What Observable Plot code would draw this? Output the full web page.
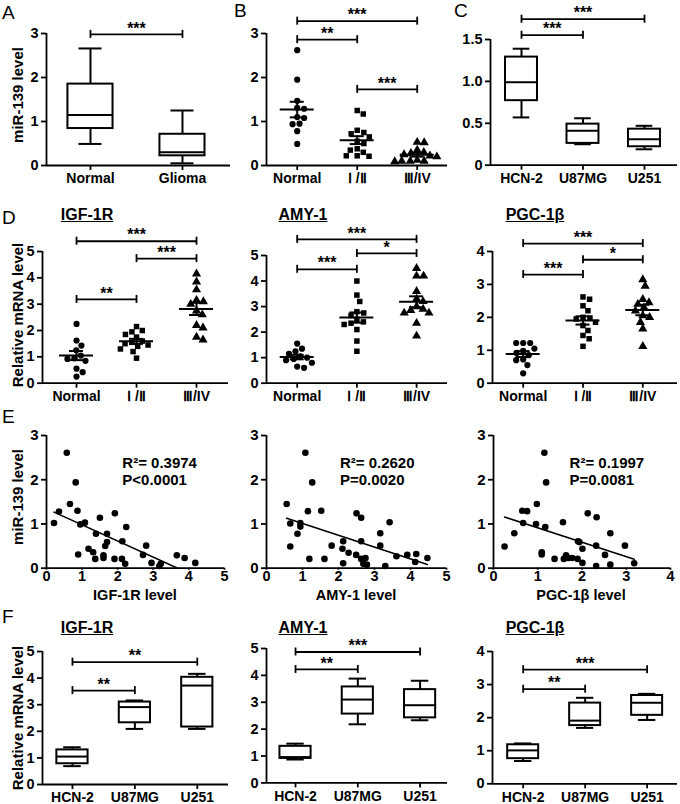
<!DOCTYPE html>
<html><head><meta charset="utf-8">
<script src="https://cdn.jsdelivr.net/npm/d3@7"></script>
<script src="https://cdn.jsdelivr.net/npm/@observablehq/plot@0.6"></script>
<style>
body{margin:0;background:#fff;}
#fig{position:relative;width:680px;height:804px;overflow:hidden;font-family:"Liberation Sans",Arial,Helvetica,sans-serif;color:#000;background:#fff;}
.lab{position:absolute;white-space:nowrap;line-height:1;}
</style></head><body><div id="fig"></div><script>
// ---------------- DATA ----------------
const catsA = ["Normal", "Glioma"];
const A_min = [0.49, 0.05], A_q1 = [0.84, 0.22], A_med = [1.15, 0.30], A_q3 = [1.85, 0.71], A_max = [2.66, 1.25];

const catsStage = ["Normal", "Ⅰ /Ⅱ", "Ⅲ/IV"];
const B_normal = [2.62, 1.95, 1.47, 1.31, 1.29, 1.10, 1.08, 0.95, 0.94, 0.78, 0.49];
const B_early = [1.25, 1.17, 0.80, 0.75, 0.72, 0.65, 0.55, 0.50, 0.38, 0.35, 0.30, 0.22, 0.22, 0.21];
const B_late = [0.53, 0.52, 0.35, 0.30, 0.28, 0.25, 0.22, 0.20, 0.12, 0.10, 0.10, 0.10, 0.09];

const catsCell = ["HCN-2", "U87MG", "U251"];
const C_min = [0.57, 0.25, 0.19], C_q1 = [0.77, 0.26, 0.22], C_med = [0.99, 0.41, 0.31], C_q3 = [1.29, 0.49, 0.43], C_max = [1.39, 0.56, 0.47];

const genes = ["IGF-1R", "AMY-1", "PGC-1β"];
const IGF_normal = [2.25, 1.62, 1.43, 1.25, 1.05, 0.95, 0.92, 0.85, 0.55, 0.42, 0.25];
const IGF_early = [2.15, 2.00, 1.95, 1.85, 1.75, 1.60, 1.55, 1.50, 1.45, 1.40, 1.30, 1.20, 0.95];
const IGF_late = [4.15, 3.85, 3.55, 3.15, 3.10, 3.00, 2.75, 2.60, 2.20, 2.10, 1.75, 1.65];
const AMY_normal = [1.55, 1.35, 1.25, 1.15, 1.05, 1.00, 0.95, 0.90, 0.80, 0.65, 0.60];
const AMY_early = [4.00, 3.45, 3.20, 2.80, 2.75, 2.65, 2.50, 2.40, 2.35, 2.30, 2.10, 1.65, 1.25];
const AMY_late = [4.50, 4.20, 4.20, 3.60, 3.30, 3.20, 3.00, 2.90, 2.85, 2.75, 2.75, 2.35, 1.85];
const PGC_normal = [1.22, 1.22, 1.22, 1.05, 0.98, 0.92, 0.85, 0.72, 0.70, 0.55, 0.30];
const PGC_early = [2.62, 2.55, 2.35, 2.20, 2.00, 1.98, 1.95, 1.85, 1.75, 1.60, 1.45, 1.35, 1.12];
const PGC_late = [3.15, 2.95, 2.55, 2.45, 2.40, 2.30, 2.20, 2.05, 2.00, 1.85, 1.65, 1.12];

const E_IGF_x = [0.57,0.82,0.66,0.35,0.87,0.21,0.95,1.08,0.89,1.50,1.92,1.39,1.70,1.70,1.65,1.18,1.31,1.37,1.60,1.60,1.91,2.13,2.24,2.12,2.21,2.71,2.80,2.95,3.17,3.21,3.66,3.88,4.18];
const E_IGF_y = [2.61,1.94,1.45,1.28,1.30,1.02,0.99,1.03,0.31,1.14,1.24,0.78,0.78,0.59,0.50,0.44,0.36,0.21,0.29,0.23,0.21,0.61,0.93,0.21,0.10,0.30,0.51,0.12,0.05,0.10,0.29,0.23,0.12];
const E_AMY_x = [1.08,1.27,0.56,0.66,1.15,1.52,0.94,0.94,0.86,0.66,1.19,1.61,1.81,2.13,2.11,2.13,2.28,2.50,2.63,2.63,2.49,2.63,2.75,2.69,2.79,3.16,3.16,3.42,3.30,3.61,3.91,4.16,4.13,4.47];
const E_AMY_y = [2.61,1.94,1.45,1.01,1.29,1.30,1.02,0.94,0.78,0.49,0.21,0.21,0.51,0.61,0.44,0.11,0.35,1.24,1.14,0.61,0.30,0.21,0.23,0.10,0.08,0.79,0.51,1.04,0.05,0.27,0.30,0.32,0.14,0.23];
const E_PGC_x = [1.15,1.19,0.98,0.65,0.76,0.67,0.96,1.17,0.47,0.25,1.09,1.09,1.57,1.38,1.59,1.64,1.69,1.78,1.91,1.94,1.90,2.01,2.01,2.13,2.33,2.32,2.32,2.52,2.64,2.64,2.97,3.18];
const E_PGC_y = [2.61,1.94,1.45,1.30,1.29,1.02,1.00,0.93,0.79,0.49,0.36,0.31,1.04,0.21,0.21,0.29,0.23,0.23,0.61,0.59,0.21,0.44,0.12,1.24,1.15,0.51,0.05,0.30,0.79,0.08,0.51,0.11];
const E_r2 = ["0.3974", "0.2620", "0.1997"];
const E_p = ["P<0.0001", "P=0.0020", "P=0.0081"];

const F_IGF_min = [0.69, 2.09, 2.09], F_IGF_q1 = [0.78, 2.32, 2.16], F_IGF_med = [1.05, 2.91, 3.72], F_IGF_q3 = [1.30, 3.10, 4.03], F_IGF_max = [1.40, 3.16, 4.16];
const F_AMY_min = [0.87, 2.18, 2.33], F_AMY_q1 = [0.91, 2.56, 2.42], F_AMY_med = [0.96, 3.10, 2.89], F_AMY_q3 = [1.36, 3.57, 3.47], F_AMY_max = [1.46, 3.88, 3.80];
const F_PGC_min = [0.69, 1.69, 1.93], F_PGC_q1 = [0.76, 1.76, 2.07], F_PGC_med = [1.01, 1.91, 2.45], F_PGC_q3 = [1.18, 2.44, 2.67], F_PGC_max = [1.22, 2.60, 2.72];

// significance brackets: groups a-b, bracket height (data units), label
const sigA = [{a: 0, b: 1, y: 2.98, label: "***"}];
const sigB = [{a: 0, b: 2, y: 3.28, label: "***"}, {a: 0, b: 1, y: 2.86, label: "**"}, {a: 1, b: 2, y: 1.73, label: "***"}];
const sigC = [{a: 0, b: 2, y: 1.742, label: "***"}, {a: 0, b: 1, y: 1.551, label: "***"}];
const sigD_IGF = [{a: 0, b: 2, y: 5.39, label: "***"}, {a: 1, b: 2, y: 4.73, label: "***"}, {a: 0, b: 1, y: 3.18, label: "**"}];
const sigD_AMY = [{a: 0, b: 2, y: 5.63, label: "***"}, {a: 1, b: 2, y: 5.08, label: "*"}, {a: 0, b: 1, y: 4.46, label: "***"}];
const sigD_PGC = [{a: 0, b: 2, y: 4.24, label: "***"}, {a: 1, b: 2, y: 3.75, label: "*"}, {a: 0, b: 1, y: 3.30, label: "***"}];
const sigF_IGF = [{a: 0, b: 2, y: 4.60, label: "**"}, {a: 0, b: 1, y: 3.53, label: "**"}];
const sigF_AMY = [{a: 0, b: 2, y: 4.87, label: "***"}, {a: 0, b: 1, y: 4.22, label: "**"}];
const sigF_PGC = [{a: 0, b: 2, y: 3.45, label: "***"}, {a: 0, b: 1, y: 2.86, label: "**"}];

// ---------------- DRAWING ----------------
const fig = document.getElementById("fig");
const FONT = '"Liberation Sans", Arial, Helvetica, sans-serif';
const baseStyle = {fontFamily: FONT, fontWeight: "bold", fontSize: "14px", color: "black", background: "transparent", overflow: "visible"};
const SW = 1.8;

function addText(txt, x, y, {size = 14, weight = "bold", anchor = "middle", rotate = 0, underline = false} = {}) {
  const d = document.createElement("div");
  d.className = "lab";
  d.textContent = txt;
  d.style.fontSize = size + "px";
  d.style.fontWeight = weight;
  d.style.left = x + "px";
  d.style.top = y + "px";
  const tx = anchor === "start" ? "0" : "-50%";
  d.style.transform = `translate(${tx},-50%)` + (rotate ? ` rotate(${rotate}deg)` : "");
  if (underline) d.style.textDecoration = "underline";
  fig.appendChild(d);
}

function makePlot(c, marks) {
  const ML = 50, MR = 14, MT = 50, MB = 40;
  const svg = Plot.plot({
    width: ML + (c.fx1 - c.fx0) + MR,
    height: MT + (c.bot - c.top) + MB,
    marginLeft: ML, marginRight: MR, marginTop: MT, marginBottom: MB,
    x: {domain: c.xdom},
    y: {domain: [0, c.ymax]},
    style: baseStyle,
    marks: [
      Plot.ruleX([c.xdom[0]], {strokeWidth: SW}),
      Plot.ruleY([0], {strokeWidth: SW}),
      Plot.axisY({ticks: c.yticks, tickFormat: c.yfmt || (d => String(d)), tickSize: 5, tickPadding: 3, strokeWidth: SW, fontSize: c.yfs || 14.5, label: null}),
      Plot.axisX({ticks: c.xticks, tickFormat: c.xfmt, tickSize: c.xtick ?? 5, tickPadding: c.xpad ?? 3, strokeWidth: SW, fontSize: c.xfs || 14, label: null}),
      ...marks
    ]
  });
  svg.style.position = "absolute";
  svg.style.left = (c.fx0 - ML) + "px";
  svg.style.top = (c.top - MT) + "px";
  fig.appendChild(svg);
}

function sigMarks(sig) {
  return [
    Plot.ruleY(sig, {x1: "a", x2: "b", y: "y", strokeWidth: SW}),
    Plot.ruleX(sig, {x: "a", y1: "y", y2: "y", insetTop: -4, insetBottom: -4, strokeWidth: SW}),
    Plot.ruleX(sig, {x: "b", y1: "y", y2: "y", insetTop: -4, insetBottom: -4, strokeWidth: SW}),
    Plot.text(sig, {x: d => (d.a + d.b) / 2, y: "y", text: "label", fontSize: 16, dy: -6})
  ];
}

function boxPanel(c, cats, mn, q1, md, q3, mx, sig) {
  const idx = d3.range(cats.length);
  const bw = c.bw, cw = c.cw;
  makePlot({...c, xticks: idx, xfmt: i => cats[i]}, [
    Plot.ruleX(idx, {x: i => i, y1: i => q3[i], y2: i => mx[i], strokeWidth: 2}),
    Plot.ruleX(idx, {x: i => i, y1: i => mn[i], y2: i => q1[i], strokeWidth: 2}),
    Plot.ruleY(idx, {x1: i => i - cw, x2: i => i + cw, y: i => mx[i], strokeWidth: 2}),
    Plot.ruleY(idx, {x1: i => i - cw, x2: i => i + cw, y: i => mn[i], strokeWidth: 2}),
    Plot.rect(idx, {x1: i => i - bw, x2: i => i + bw, y1: i => q1[i], y2: i => q3[i], fill: "white", stroke: "black", strokeWidth: 2}),
    Plot.ruleY(idx, {x1: i => i - bw, x2: i => i + bw, y: i => md[i], strokeWidth: 2}),
    ...sigMarks(sig)
  ]);
}

// simple beeswarm: horizontal pixel offsets so dots don't overlap
function swarm(vals, pxY, r) {
  const d = 2 * r + 0.8;
  const order = d3.range(vals.length).sort((a, b) => vals[b] - vals[a]);
  const placed = [], off = new Array(vals.length);
  for (const i of order) {
    const y = vals[i] * pxY;
    const cands = [0];
    for (const p of placed) {
      const dy = Math.abs(p.y - y);
      if (dy < d) { const w = Math.sqrt(d * d - dy * dy); cands.push(p.x + w, p.x - w); }
    }
    cands.sort((a, b) => Math.abs(a) - Math.abs(b));
    let xp = 0;
    for (const cnd of cands) {
      if (placed.every(p => (p.x - cnd) ** 2 + (p.y - y) ** 2 >= d * d - 1e-6)) { xp = cnd; break; }
    }
    placed.push({x: xp, y}); off[i] = xp;
  }
  return off;
}

function dotPanel(c, cats, groups, sig) {
  const idx = d3.range(cats.length);
  const pxX = (c.fx1 - c.fx0) / (c.xdom[1] - c.xdom[0]);
  const pxY = (c.bot - c.top) / c.ymax;
  const r = 3.1;
  const symbols = ["circle", "square", "triangle"];
  const dotMarks = groups.map((vals, g) => {
    const off = swarm(vals, pxY, r);
    const pts = vals.map((v, k) => ({x: g + off[k] / pxX, y: v}));
    return Plot.dot(pts, {x: "x", y: "y", symbol: symbols[g], r: g === 2 ? 3.4 : r, fill: "black", stroke: "none"});
  });
  const stats = groups.map((vals, g) => {
    const m = d3.mean(vals), se = d3.deviation(vals) / Math.sqrt(vals.length);
    return {g, m, lo: m - se, hi: m + se};
  });
  const mw = 17 / pxX, sw = 7 / pxX;
  makePlot({...c, xticks: idx, xfmt: i => cats[i]}, [
    ...dotMarks,
    Plot.ruleY(stats, {x1: d => d.g - mw, x2: d => d.g + mw, y: "m", strokeWidth: 2}),
    Plot.ruleX(stats, {x: "g", y1: "lo", y2: "hi", strokeWidth: 2}),
    Plot.ruleY(stats, {x1: d => d.g - sw, x2: d => d.g + sw, y: "lo", strokeWidth: 2}),
    Plot.ruleY(stats, {x1: d => d.g - sw, x2: d => d.g + sw, y: "hi", strokeWidth: 2}),
    ...sigMarks(sig)
  ]);
}

function corrPanel(c, xs, ys, r2, p, tx) {
  const pts = xs.map((x, i) => ({x, y: ys[i]}));
  makePlot({...c, xticks: d3.range(0, c.xdom[1] + 1), xfmt: d => String(d), xtick: 2, xpad: 1, xfs: 14.5, yfs: 15}, [
    Plot.dot(pts, {x: "x", y: "y", r: 3.3, fill: "black"}),
    Plot.linearRegressionY(pts, {x: "x", y: "y", ci: 0, stroke: "black", strokeWidth: 1.6, clip: true}),
    Plot.text(["R²= " + r2], {x: () => tx, y: () => 2.37, text: d => d, textAnchor: "start", fontSize: 15}),
    Plot.text([p], {x: () => tx, y: () => 1.98, text: d => d, textAnchor: "start", fontSize: 15})
  ]);
}

// Row 1
boxPanel({fx0: 46, fx1: 230, top: 33, bot: 165, xdom: [-0.478, 1.522], ymax: 3, yticks: [0, 1, 2, 3], bw: 0.245, cw: 0.125},
  catsA, A_min, A_q1, A_med, A_q3, A_max, sigA);
dotPanel({fx0: 266, fx1: 447, top: 33, bot: 165, xdom: [-0.512, 2.505], ymax: 3, yticks: [0, 1, 2, 3]},
  catsStage, [B_normal, B_early, B_late], sigB);
boxPanel({fx0: 490, fx1: 677, top: 39.3, bot: 165, xdom: [-0.504, 2.537], ymax: 1.5, yticks: [0, 0.5, 1, 1.5],
  yfmt: d => d === 0 ? "0" : d.toFixed(1), bw: 0.26, cw: 0.135},
  catsCell, C_min, C_q1, C_med, C_q3, C_max, sigC);
// Row 2
dotPanel({fx0: 42, fx1: 228, top: 251, bot: 382.7, xdom: [-0.567, 2.533], ymax: 5, yticks: [0, 1, 2, 3, 4, 5]},
  catsStage, [IGF_normal, IGF_early, IGF_late], sigD_IGF);
dotPanel({fx0: 266, fx1: 447, top: 255, bot: 382.7, xdom: [-0.514, 2.518], ymax: 5, yticks: [0, 1, 2, 3, 4, 5]},
  catsStage, [AMY_normal, AMY_early, AMY_late], sigD_AMY);
dotPanel({fx0: 492, fx1: 677, top: 251, bot: 382.7, xdom: [-0.513, 2.58], ymax: 4, yticks: [0, 1, 2, 3, 4]},
  catsStage, [PGC_normal, PGC_early, PGC_late], sigD_PGC);
// Row 3
corrPanel({fx0: 46, fx1: 224, top: 435, bot: 567.7, xdom: [0, 5], ymax: 3, yticks: [0, 1, 2, 3]}, E_IGF_x, E_IGF_y, E_r2[0], E_p[0], 2.13);
corrPanel({fx0: 266, fx1: 446, top: 435, bot: 567.7, xdom: [0, 5], ymax: 3, yticks: [0, 1, 2, 3]}, E_AMY_x, E_AMY_y, E_r2[1], E_p[1], 2.04);
corrPanel({fx0: 493, fx1: 670, top: 435, bot: 567.7, xdom: [0, 4], ymax: 3, yticks: [0, 1, 2, 3]}, E_PGC_x, E_PGC_y, E_r2[2], E_p[2], 1.72);
// Row 4
boxPanel({fx0: 42, fx1: 228, top: 651, bot: 784, xdom: [-0.48, 2.5], ymax: 5, yticks: [0, 1, 2, 3, 4, 5], bw: 0.25, cw: 0.14},
  catsCell, F_IGF_min, F_IGF_q1, F_IGF_med, F_IGF_q3, F_IGF_max, sigF_IGF);
boxPanel({fx0: 266, fx1: 447, top: 648.3, bot: 782.7, xdom: [-0.466, 2.44], ymax: 5, yticks: [0, 1, 2, 3, 4, 5], bw: 0.25, cw: 0.14},
  catsCell, F_AMY_min, F_AMY_q1, F_AMY_med, F_AMY_q3, F_AMY_max, sigF_AMY);
boxPanel({fx0: 492, fx1: 677, top: 651, bot: 783.3, xdom: [-0.495, 2.49], ymax: 4, yticks: [0, 1, 2, 3, 4], bw: 0.25, cw: 0.14},
  catsCell, F_PGC_min, F_PGC_q1, F_PGC_med, F_PGC_q3, F_PGC_max, sigF_PGC);

// Panel letters
[["A", 2, 11.5], ["B", 234, 10], ["C", 454, 10], ["D", 2, 217], ["E", 2, 415.5], ["F", 2, 615.5]]
  .forEach(([t, x, y]) => addText(t, x, y, {size: 19, weight: "normal", anchor: "start"}));
// Gene titles
[[87, 215], [303, 215], [535, 215]].forEach(([x, y], i) => addText(genes[i], x, y, {size: 16, underline: true}));
[[87, 628], [303, 628], [535, 628]].forEach(([x, y], i) => addText(genes[i], x, y, {size: 16, underline: true}));
// Axis titles
addText("miR-139 level", 17, 95, {size: 15, rotate: -90});
addText("miR-139 level", 17, 497, {size: 15, rotate: -90});
addText("Relative mRNA level", 17, 315, {size: 15, rotate: -90});
addText("Relative mRNA level", 17, 718, {size: 15, rotate: -90});
[[135, 595], [356, 595], [581, 595]].forEach(([x, y], i) => addText(genes[i] + " level", x, y, {size: 14.5}));
</script></body></html>
